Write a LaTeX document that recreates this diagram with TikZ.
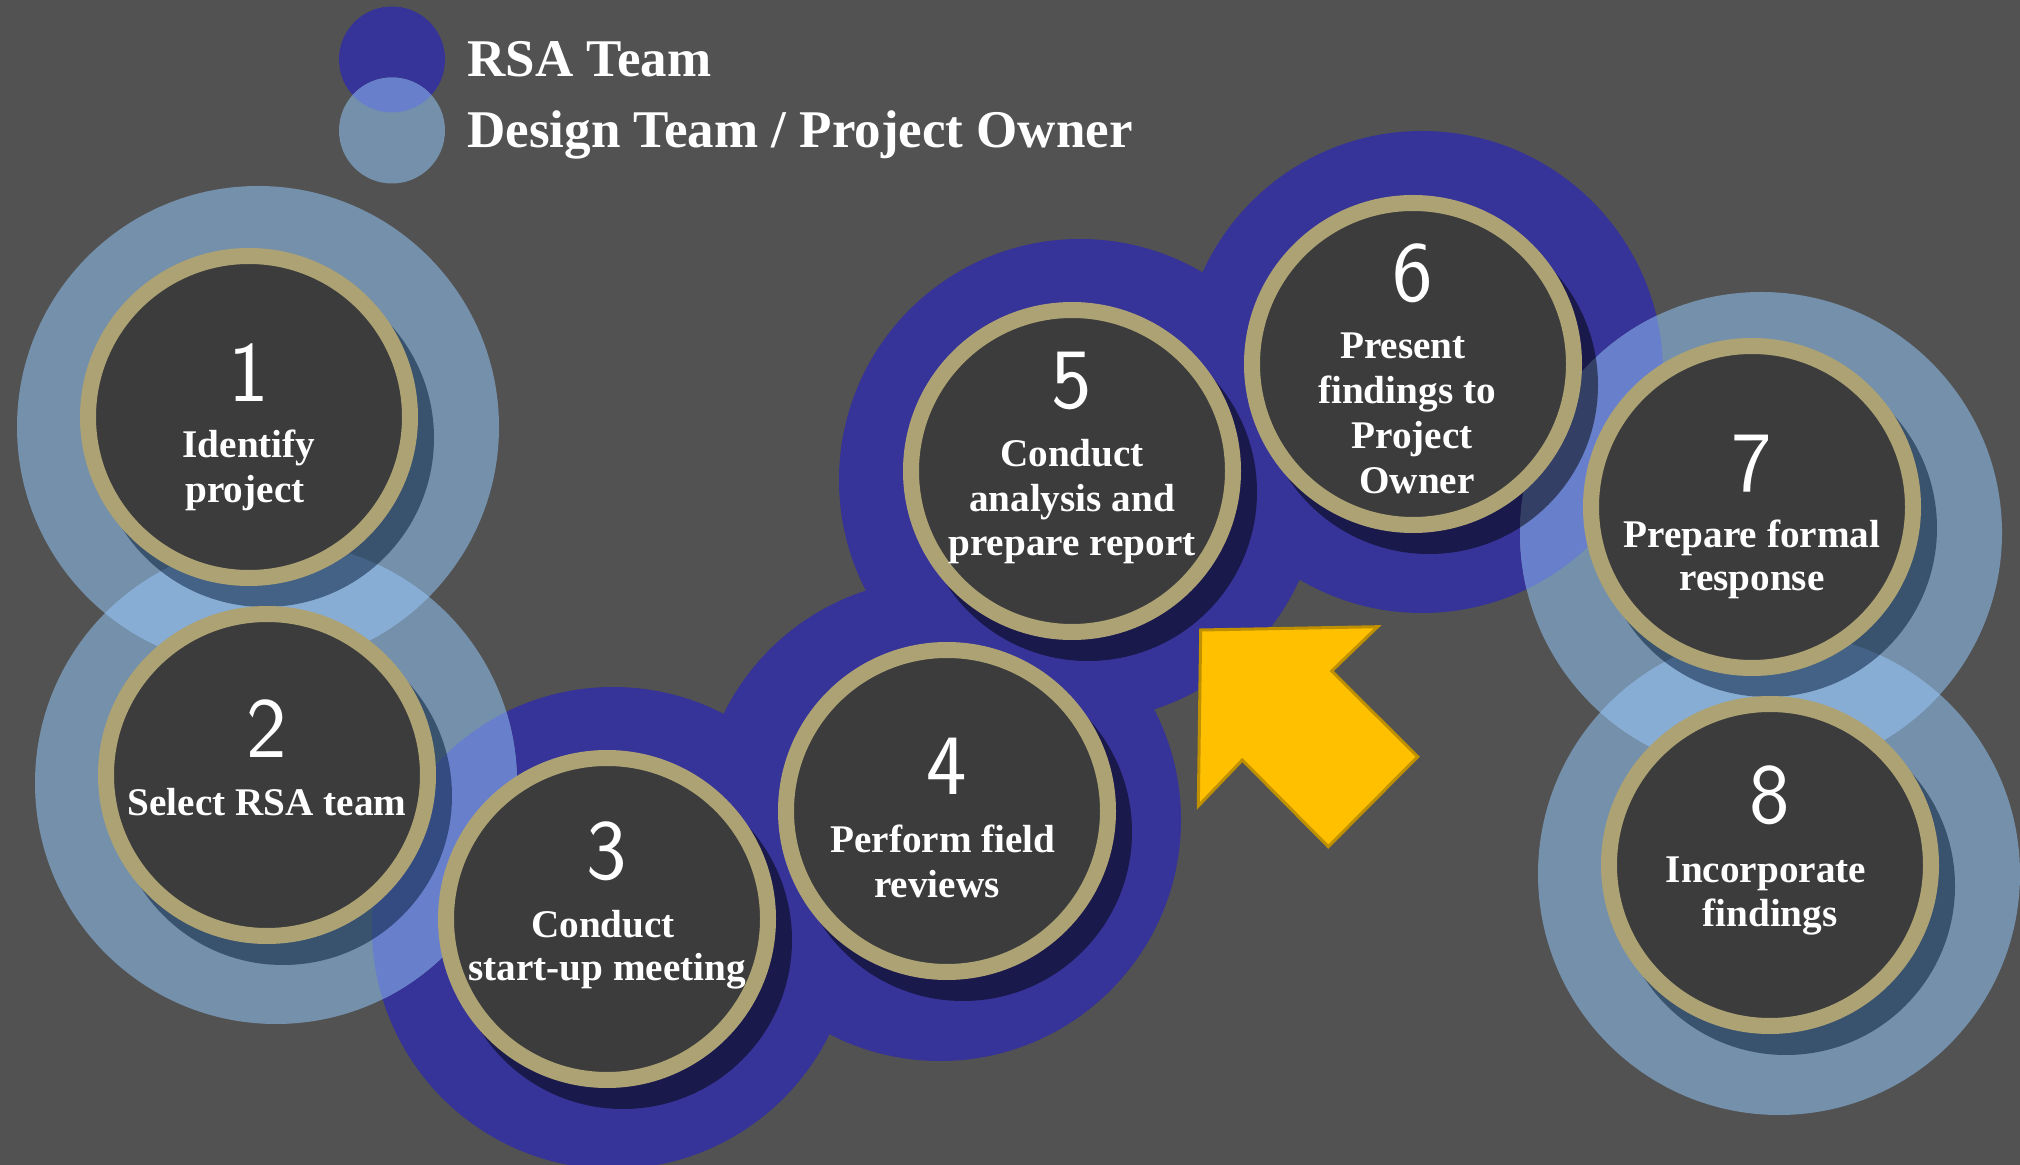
\documentclass[tikz,border=0pt]{standalone}
\usepackage{fontspec}
\setmainfont{Liberation Serif}
\newfontfamily\digitfont{Latin Modern Sans}
\definecolor{bgc}{RGB}{82,82,82}
\definecolor{darkH}{RGB}{54,51,153}
\definecolor{lightH}{RGB}{116,144,170}
\definecolor{llC}{RGB}{136,173,213}
\definecolor{ldC}{RGB}{104,128,204}
\definecolor{ringc}{RGB}{173,162,115}
\definecolor{innerc}{RGB}{60,60,60}
\definecolor{shL}{RGB}{0,24,54}
\definecolor{arrowF}{RGB}{255,192,0}
\definecolor{arrowD}{RGB}{191,144,0}
\tikzset{
  ring/.style={circle, draw=ringc, line width=8pt, fill=innerc, minimum size=161pt, inner sep=0pt},
  num/.style={anchor=base, text=white, font=\digitfont\fontsize{43}{43}\selectfont, inner sep=0pt},
  lbl/.style={anchor=base, text=white, font=\bfseries\fontsize{19.6}{22}\selectfont, inner sep=0pt},
  legend/.style={anchor=base west, text=white, font=\bfseries\fontsize{26.5}{30}\selectfont, inner sep=0pt},
  shadowL/.style={fill=shL, fill opacity=0.5},
  shadowD/.style={fill=black, fill opacity=0.5},
  bigarrow/.style={fill=arrowF, draw=arrowD, line width=1.5pt, line join=miter}
}
\begin{document}
\begin{tikzpicture}[x=0.5pt,y=-0.5pt]
\fill[bgc] (0,0) rectangle (2020,1165);
\useasboundingbox (0,0) rectangle (2020,1165);

% legend
\fill[darkH] (392,59.5) circle[radius=26.5pt];
\fill[lightH] (392,130.5) circle[radius=26.5pt];
\begin{scope}
  \clip (392,59.5) circle[radius=26.5pt];
  \fill[ldC] (392,130.5) circle[radius=26.5pt];
\end{scope}
\node[legend] (legRSA) at (467,77) {RSA Team};
\node[legend] (legDT) at (467,148) {Design Team / Project Owner};

% halos
\fill[darkH] (613,928) circle[radius=120.5pt];
\fill[darkH] (940,820) circle[radius=120.5pt];
\fill[darkH] (1080,480) circle[radius=120.5pt];
\fill[darkH] (1422,372) circle[radius=120.5pt];
\fill[lightH] (258,427) circle[radius=120.5pt];
\fill[lightH] (276,783) circle[radius=120.5pt];
\fill[lightH] (1761,533) circle[radius=120.5pt];
\fill[lightH] (1779,874) circle[radius=120.5pt];
% overlaps
\begin{scope}
  \clip (258,427) circle[radius=120.5pt];
  \fill[llC] (276,783) circle[radius=120.5pt];
\end{scope}
\begin{scope}
  \clip (276,783) circle[radius=120.5pt];
  \fill[ldC] (613,928) circle[radius=120.5pt];
\end{scope}
\begin{scope}
  \clip (1422,372) circle[radius=120.5pt];
  \fill[ldC] (1761,533) circle[radius=120.5pt];
\end{scope}
\begin{scope}
  \clip (1761,533) circle[radius=120.5pt];
  \fill[llC] (1779,874) circle[radius=120.5pt];
\end{scope}

% shadows
\fill[shadowL] (265,438) circle[radius=84.5pt];
\fill[shadowL] (283,796) circle[radius=84.5pt];
\fill[shadowD] (623,940) circle[radius=84.5pt];
\fill[shadowD] (963,832) circle[radius=84.5pt];
\fill[shadowD] (1088,492) circle[radius=84.5pt];
\fill[shadowD] (1429,385) circle[radius=84.5pt];
\fill[shadowL] (1768,528) circle[radius=84.5pt];
\fill[shadowL] (1786,886) circle[radius=84.5pt];

% rings
\node[ring] (s1) at (249,417) {};
\node[ring] (s2) at (267,775) {};
\node[ring] (s3) at (607,919) {};
\node[ring] (s4) at (947,811) {};
\node[ring] (s5) at (1072,471) {};
\node[ring] (s6) at (1413,364) {};
\node[ring] (s7) at (1752,507) {};
\node[ring] (s8) at (1770,865) {};

% texts
\node[num] (d1) at (249,402) {1};
\node[lbl] (t1a) at (249,458) {Identify};
\node[lbl] (t1b) at (245,503) {project};

\node[num] (d2) at (267,758) {2};
\node[lbl] (t2a) at (267,816) {Select RSA team};

\node[num] (d3) at (607,879) {3};
\node[lbl] (t3a) at (603,937) {Conduct};
\node[lbl] (t3b) at (607,980) {start-up meeting};

\node[num] (d4) at (947,795) {4};
\node[lbl] (t4a) at (943,853) {Perform field};
\node[lbl] (t4b) at (937,897) {reviews};

\node[num] (d5) at (1072,409) {5};
\node[lbl] (t5a) at (1072,467) {Conduct};
\node[lbl] (t5b) at (1072,512) {analysis and};
\node[lbl] (t5c) at (1072,556) {prepare report};

\node[num] (d6) at (1413,302) {6};
\node[lbl] (t6a) at (1403,359) {Present};
\node[lbl] (t6b) at (1407,404) {findings to};
\node[lbl] (t6c) at (1412,449) {Project};
\node[lbl] (t6d) at (1417,494) {Owner};

\node[num] (d7) at (1752,492) {7};
\node[lbl] (t7a) at (1752,548) {Prepare formal};
\node[lbl] (t7b) at (1752,591) {response};

\node[num] (d8) at (1770,824) {8};
\node[lbl] (t8a) at (1766,883) {Incorporate};
\node[lbl] (t8b) at (1770,926) {findings};

% arrow
\draw[bigarrow] (1200.7,630) -- (1377.7,626.7) -- (1331.7,671) -- (1417.7,756.7) -- (1328.3,846.7) -- (1242.3,760) -- (1198.3,806) -- cycle;
\end{tikzpicture}
\end{document}
